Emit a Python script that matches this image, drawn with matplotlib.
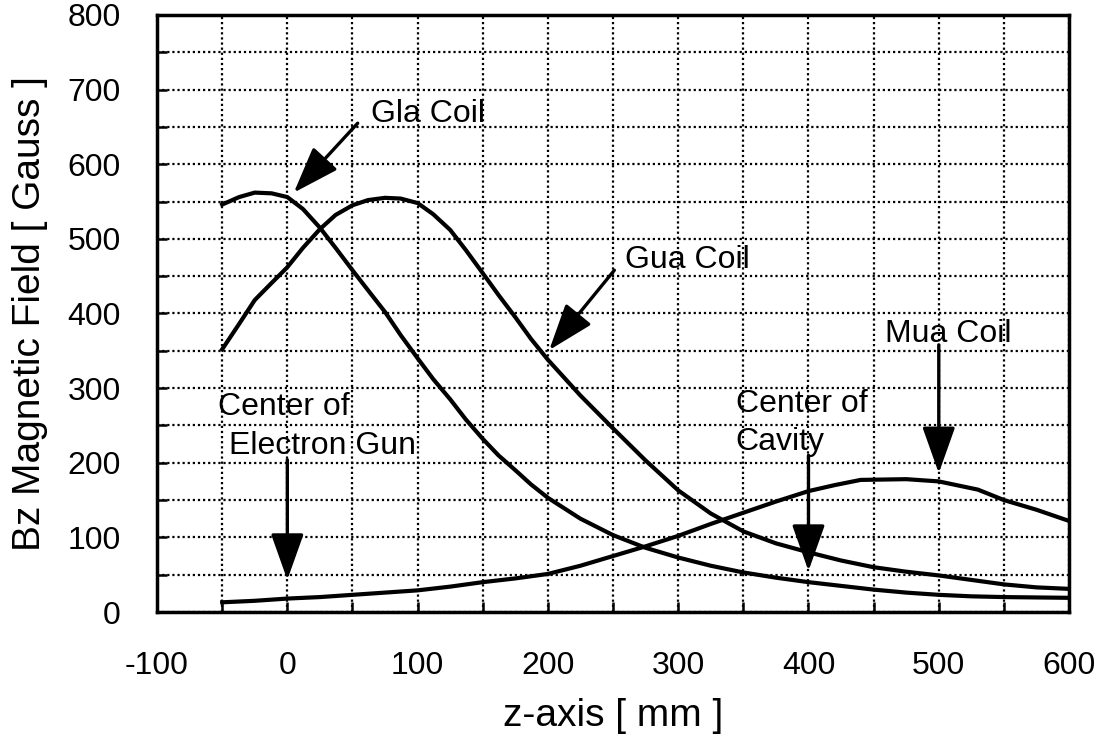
import numpy as np
import matplotlib.pyplot as plt
from matplotlib.ticker import MultipleLocator

plt.rcParams['font.family'] = ['Liberation Sans', 'DejaVu Sans']
plt.rcParams['axes.unicode_minus'] = False

# ---------------------------------------------------------------------
# Datos (z en mm, Bz en Gauss)
# ---------------------------------------------------------------------
z_gla = [-50, -37, -25, -12, 0, 12, 25, 37, 50, 62, 75, 87, 100, 112, 125,
         137, 150, 162, 175, 187, 200, 225, 250, 275, 300, 325, 350, 375,
         400, 425, 450, 475, 500, 525, 550, 575, 600]
b_gla = [546, 556, 562, 561, 556, 540, 515, 488, 458, 431, 402, 371, 340, 312,
         285, 258, 232, 210, 190, 171, 153, 125, 103, 86, 73, 62, 53, 46,
         40, 35, 30, 26, 23, 21, 20, 19.5, 19]

z_gua = [-50, -37, -25, -12, 0, 12, 25, 37, 50, 62, 75, 87, 100, 112, 125,
         137, 150, 162, 175, 187, 200, 225, 250, 275, 300, 325, 350, 375,
         400, 425, 450, 475, 500, 525, 550, 575, 600]
b_gua = [352, 386, 418, 441, 462, 488, 513, 532, 545, 552, 555, 554, 548, 533,
         512, 485, 454, 425, 395, 366, 338, 290, 246, 203, 163, 132, 108, 92,
         80, 69, 60, 54, 49, 43, 37, 33, 31]

z_mua = [-50, -25, 0, 25, 50, 75, 100, 125, 150, 175, 200, 225, 250, 275,
         300, 325, 350, 375, 400, 420, 440, 475, 500, 530, 550, 575, 600]
b_mua = [13, 15, 18, 20, 23, 26, 29, 34, 40, 45, 51, 62, 75, 88,
         102, 118, 133, 148, 162, 170, 177, 178, 175, 164, 150, 137, 122]

# Anotaciones: (texto, z, B) posicion del texto (izquierda, linea base)
etiquetas = [
    ("Gla Coil", 64, 656),
    ("Gua Coil", 259, 461),
    ("Mua Coil", 459, 362),
    ("Center of", 344, 268),
    ("Cavity", 344, 217),
    ("Center of", -53, 264),
    ("Electron Gun", -45, 212),
]

# Flechas: (z_cola, B_cola, z_punta, B_punta)
flechas = [
    (54, 655, 5, 562),
    (251, 458, 201, 351),
    (500, 358, 500, 186),
    (400, 210, 400, 55),
    (0, 204, 0, 43),
]

fig = plt.figure(figsize=(11.09, 7.42), dpi=100)
ax = fig.add_axes([0.1416, 0.1752, 0.8224, 0.8046])

for zz, bb in [(z_gla, b_gla), (z_gua, b_gua), (z_mua, b_mua)]:
    ax.plot(zz, bb, color='black', lw=3.0, solid_joinstyle='round')

for texto, zt, bt in etiquetas:
    ax.text(zt, bt, texto, fontsize=23, ha='left', va='baseline')

for z0, b0, z1, b1 in flechas:
    ax.annotate('', xy=(z1, b1), xytext=(z0, b0),
                arrowprops=dict(arrowstyle='-|>,head_length=0.9,head_width=0.32',
                                color='black', lw=2.4, shrinkA=0, shrinkB=0,
                                mutation_scale=32))

ax.set_xlim(-100, 600)
ax.set_ylim(0, 800)
ax.xaxis.set_major_locator(MultipleLocator(100))
ax.xaxis.set_minor_locator(MultipleLocator(50))
ax.yaxis.set_major_locator(MultipleLocator(100))
ax.yaxis.set_minor_locator(MultipleLocator(50))

ax.grid(True, which='both', color='black', linestyle=(0, (1, 1.3)), lw=1.6)
ax.tick_params(which='both', direction='in', length=7, width=1.8,
               top=False, right=False)
ax.tick_params(axis='x', labelsize=23, pad=28)
ax.tick_params(axis='y', labelsize=23, pad=26)
for s in ax.spines.values():
    s.set_linewidth(2.5)

ax.set_xlabel("z-axis [ mm ]", fontsize=28, labelpad=12)
ax.set_ylabel("Bz Magnetic Field [ Gauss ]", fontsize=28, labelpad=14)

fig.savefig("out.png", dpi=100)
